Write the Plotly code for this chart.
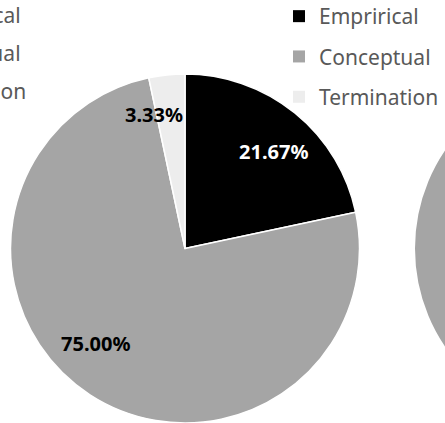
import plotly.graph_objects as go
import math

categories = ["Emprirical", "Conceptual", "Termination"]
values = [21.67, 75.00, 3.33]
colors = ["#000000", "#A5A5A5", "#EDEDED"]
text_colors = ["#FFFFFF", "#000000", "#000000"]
labels_txt = [f"{v:.2f}%" for v in values]

# label nudges (screen pixels: +x right, +y down; style only)
label_shift = [(8, 2), (-20, -12), (0, 0)]

W, H = 445, 423
FONT = "Noto Sans"

# pie placement (pixels)
PX0, PX1 = 10, 360
PY0, PY1 = 0, 349
cx_px = (PX0 + PX1) / 2
cy_px = (PY0 + PY1) / 2  # from bottom
R = (PX1 - PX0) / 2

fig = go.Figure()

# neighbouring panel (partially visible at right edge)
fig.add_shape(type="circle", xref="paper", yref="paper", layer="below",
              x0=415 / W, x1=765 / W, y0=(cy_px - R) / H, y1=(cy_px + R) / H,
              fillcolor="#A5A5A5", line=dict(width=0))

fig.add_trace(go.Pie(
    labels=categories, values=values, sort=False, direction="clockwise", rotation=0,
    marker=dict(colors=colors, line=dict(color="#FFFFFF", width=1.5)),
    textinfo="none",
    domain=dict(x=[PX0 / W, PX1 / W], y=[PY0 / H, PY1 / H]),
    showlegend=False, hoverinfo="label+percent",
))

# slice labels positioned from the data (mid-angle of each slice)
total = sum(values)
cum = 0
for i, v in enumerate(values):
    theta = math.radians(360 * (cum + v / 2) / total)
    cum += v
    small = v / total < 0.08
    r = 0.77 * R if small else 0.73 * R
    x = cx_px + r * math.sin(theta)
    y = cy_px + r * math.cos(theta)
    dx, dy = label_shift[i]
    fig.add_annotation(text=f"<b>{labels_txt[i]}</b>", xref="paper", yref="paper",
                       x=(cx_px if small else x) / W, y=y / H,
                       xanchor="right" if small else "center", yanchor="middle",
                       xshift=dx, yshift=-dy, showarrow=False,
                       font=dict(family=FONT, size=20, color=text_colors[i]))

# legend entries
for c, col in zip(categories, colors):
    fig.add_trace(go.Scatter(
        x=[None], y=[None], mode="markers", name=c, legendgroup=c,
        marker=dict(symbol="square", size=12, color=col),
    ))

# partial legend from the neighbouring panel at the left edge
left_y = [15, 53, 91]
left_x = [23, 23, 28]
for c, yy, xx in zip(categories, left_y, left_x):
    fig.add_annotation(text=c, xref="paper", yref="paper", x=xx / W, y=(H - yy) / H,
                       xanchor="right", yanchor="middle", showarrow=False,
                       font=dict(family=FONT, size=21, color="#595959"))

fig.update_layout(
    width=W, height=H, margin=dict(l=0, r=0, t=0, b=0, autoexpand=False),
    paper_bgcolor="white", plot_bgcolor="white",
    xaxis=dict(visible=False), yaxis=dict(visible=False),
    legend=dict(x=279 / W, y=1 + 4 / H, xanchor="left", yanchor="top",
                font=dict(family=FONT, size=21, color="#595959"),
                tracegroupgap=10, bgcolor="rgba(0,0,0,0)"),
)

fig.write_html("out.html", config={"displayModeBar": False},
               post_script="document.body.style.margin='0px';")
